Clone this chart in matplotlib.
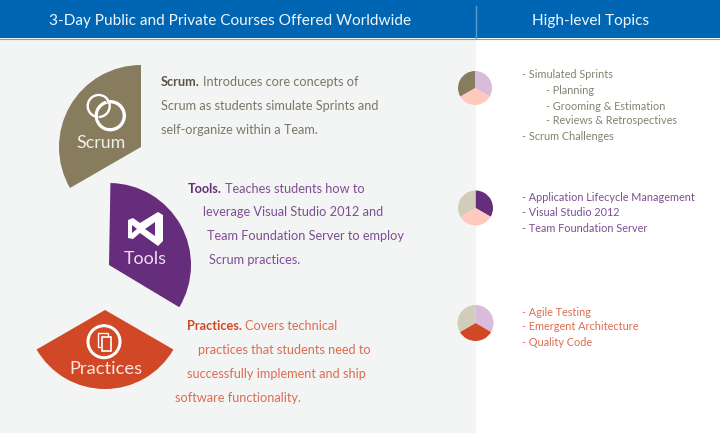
import matplotlib
matplotlib.use('Agg')
import matplotlib.pyplot as plt
from matplotlib.patches import Wedge, Rectangle, Circle, Polygon, Arc

plt.rcParams['font.family'] = ['Lato', 'DejaVu Sans']

W, H = 720, 433

header_left = '3-Day Public and Private Courses Offered Worldwide'
header_right = 'High-level Topics'

# three equal shares in each small pie, going clockwise from the top
pie_shares = [1, 1, 1]
scrum_pie = ['#D9BBDC', '#FFC9BE', '#877D5E']
tools_pie = ['#662D7C', '#FFC9BE', '#D2CDB8']
practices_pie = ['#D9BBDC', '#D04826', '#D2CDB8']

scrum_lines = ['Introduces core concepts of', 'Scrum as students simulate Sprints and', 'self-organize within a Team.']
tools_lines = ['Teaches students how to', 'leverage Visual Studio 2012 and', 'Team Foundation Server to employ', 'Scrum practices.']
practices_lines = ['Covers technical', 'practices that students need to', 'successfully implement and ship', 'software functionality.']

scrum_topics = ['- Simulated Sprints', '- Planning', '- Grooming & Estimation', '- Reviews & Retrospectives', '- Scrum Challenges']
tools_topics = ['- Application Lifecycle Management', '- Visual Studio 2012', '- Team Foundation Server']
practices_topics = ['- Agile Testing', '- Emergent Architecture', '- Quality Code']

OLIVE = '#877D5E'
PURPLE = '#662D7C'
RED = '#D04826'
# the reference type is very thin, so the regular weight gets a paler ink
OLIVE_TEXT = '#7B7766'
PURPLE_TEXT = '#7F4D93'
RED_TEXT = '#DC6C52'

fig = plt.figure(figsize=(7.2, 4.33), dpi=100)
ax = fig.add_axes([0, 0, 1, 1])


def py(y):
    return H - y


def pts(points):
    return [(x, py(y)) for x, y in points]


def label(x, y, s, color, size=9.15, weight='normal', ha='left'):
    return ax.text(x, py(y), s, color=color, fontsize=size, fontweight=weight,
                   ha=ha, va='center_baseline', zorder=5)


def small_pie(cx, cy, r, colors):
    ax.pie(pie_shares, colors=colors, center=(cx, py(cy)), radius=r,
           startangle=90, counterclock=False, frame=True,
           wedgeprops={'linewidth': 0})


# backgrounds
ax.add_patch(Rectangle((0, 0), 476, H, fc='#F3F5F5', ec='none', zorder=0))
ax.add_patch(Rectangle((0, py(38)), W, 38, fc='#0066B3', ec='none', zorder=1))
ax.plot([0, W], [py(38.5), py(38.5)], color='#6DA5D3', lw=0.8, zorder=2)
ax.plot([475.5, 475.5], [py(6), py(38)], color='#5C9BCE', lw=1, zorder=2)
label(230, 20, header_left, '#F0F6FB', size=11.05, ha='center')
label(591, 20, header_right, '#F0F6FB', size=11.1, ha='center')

# big wedges
ax.add_patch(Wedge((141, py(147)), 82, 90, 210, fc=OLIVE, ec='none', zorder=2))
ax.add_patch(Wedge((109, py(265)), 82, -31, 89, fc=PURPLE, ec='none', zorder=2))
ax.add_patch(Wedge((105, py(310)), 79, 210, 330, fc=RED, ec='none', zorder=2))

label(101, 141, 'Scrum', '#F0EEE8', size=12.9, ha='center')
label(145.5, 258, 'Tools', '#EADFEE', size=12.9, ha='center')
label(106, 368, 'Practices', '#FBE6E0', size=13.2, ha='center')

# scrum icon: two brush rings
ax.add_patch(Circle((98.7, py(106)), 11, fc='none', ec='white', lw=1.7, zorder=3))
ax.add_patch(Circle((110.3, py(115.7)), 14, fc='none', ec='white', lw=2.4, zorder=3))
ax.add_patch(Arc((110.3, py(115.7)), 24, 24, theta1=150, theta2=260, ec=OLIVE, lw=0.5, zorder=4))
ax.add_patch(Arc((98.7, py(106)), 18, 18, theta1=20, theta2=120, ec=OLIVE, lw=0.5, zorder=4))

# tools icon: visual studio mark
ax.add_patch(Polygon(pts([(158, 212), (163, 215), (163, 241), (158, 246), (140, 233),
                          (133, 239), (128, 238), (128, 220), (133, 218), (140, 223)]),
                     fc='white', ec='none', zorder=3))
ax.add_patch(Polygon(pts([(155, 222), (155, 236), (145, 229)]), fc=PURPLE, ec='none', zorder=4))
ax.add_patch(Polygon(pts([(132, 225), (132, 233), (137, 229)]), fc=PURPLE, ec='none', zorder=4))

# practices icon: ring with two sheets
ax.add_patch(Circle((104, py(341.7)), 16, fc='none', ec='white', lw=2.2, zorder=3))
ax.add_patch(Rectangle((98, py(346.7)), 10, 14, fc='none', ec='white', lw=1, zorder=3))
ax.add_patch(Rectangle((102, py(350.7)), 9, 14, fc=RED, ec='white', lw=1.2, zorder=4))

# small pies
small_pie(475, 88, 17, scrum_pie)
small_pie(475.5, 208, 17.5, tools_pie)
small_pie(475.5, 323, 18, practices_pie)

ax.set_xlim(0, W)
ax.set_ylim(0, H)
ax.set_aspect('auto')
ax.axis('off')

# body text, lead word is bold and runs straight into the first line
renderer = fig.canvas.get_renderer()


def lead_block(word, lines, xs, ys, word_color, color):
    t = label(xs[0], ys[0], word, word_color, weight='bold')
    width = t.get_window_extent(renderer).width
    label(xs[0] + width + 3, ys[0], lines[0], color)
    for s, x, y in zip(lines[1:], xs[1:], ys[1:]):
        label(x, y, s, color)


lead_block('Scrum.', scrum_lines, [161, 161, 161], [81, 105, 128.5], '#5C5540', OLIVE_TEXT)
lead_block('Tools.', tools_lines, [188, 203, 207, 209], [188, 211.5, 235, 259], PURPLE, PURPLE_TEXT)
lead_block('Practices.', practices_lines, [187, 198, 187, 175], [325.5, 349.5, 373, 397], RED, RED_TEXT)

for s, x, y in zip(scrum_topics, [522, 546, 546, 546, 522], [74, 89, 105, 120, 136]):
    label(x, y, s, '#85816F', size=7.8)
for s, y in zip(tools_topics, [196.5, 212, 227.5]):
    label(522, y, s, PURPLE_TEXT, size=7.8)
for s, y in zip(practices_topics, [311, 326, 342]):
    label(522, y, s, RED_TEXT, size=7.8)

fig.savefig('out.png', dpi=100)
